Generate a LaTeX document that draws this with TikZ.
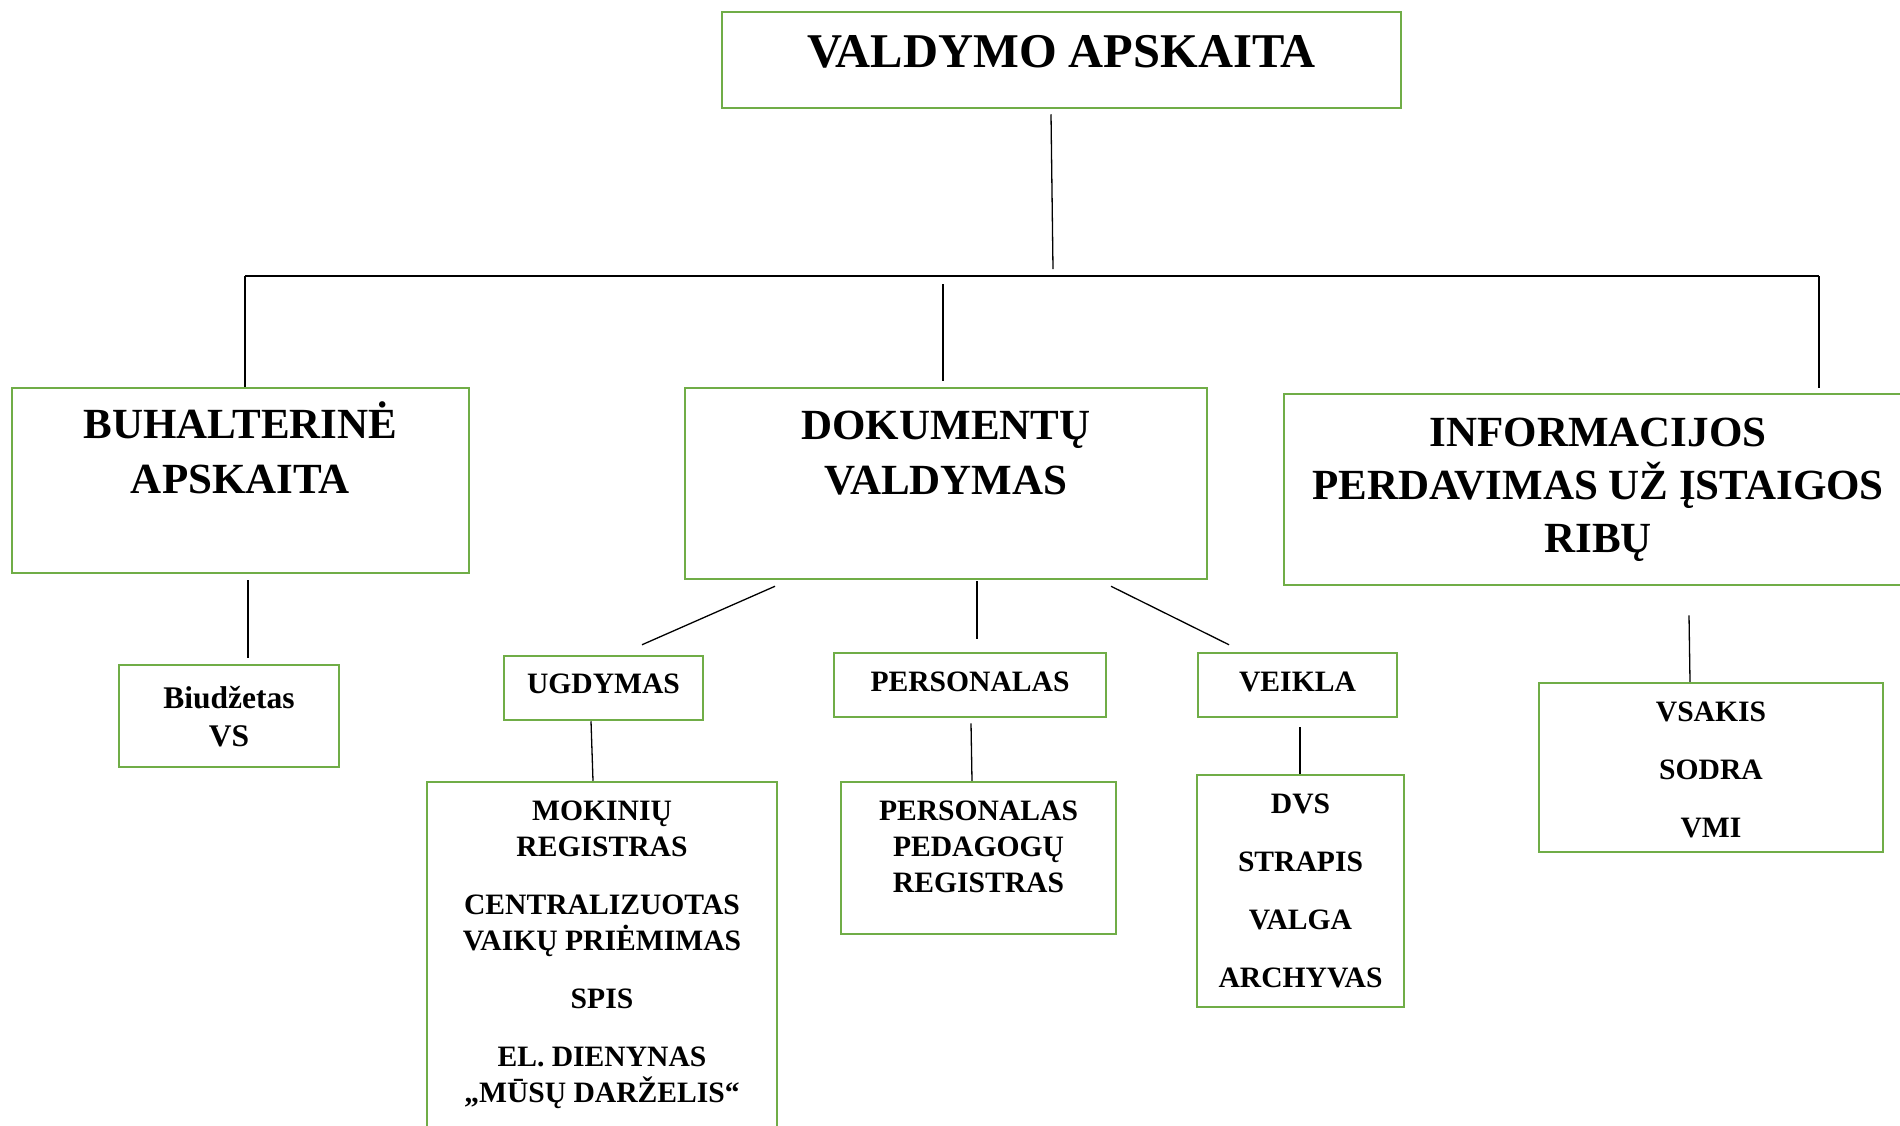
\documentclass[tikz,border=0pt]{standalone}
\usepackage{fontspec}
\setmainfont{Liberation Serif}
\usetikzlibrary{positioning}
\definecolor{boxgreen}{RGB}{112,173,71}

\begin{document}
\begin{tikzpicture}[x=1pt, y=-1pt,
  box/.style={draw=boxgreen, line width=2.5pt, inner sep=0pt},
  link/.style={line width=1.3pt},
  lbl/.style={align=center, inner sep=0pt, font=\bfseries\fontsize{29.6}{36}\selectfont, execute at begin node=\strut},
  biglbl/.style={lbl, font=\bfseries\fontsize{43}{55}\selectfont}]
  \useasboundingbox[fill=white] (0,0) rectangle (1900,1125);

  % boxes
  \node[box, minimum width=679pt, minimum height=96pt] (top) at (1061.5,60) {};
  \node[box, minimum width=457pt, minimum height=185pt] (buh) at (240.5,480.5) {};
  \node[box, minimum width=522pt, minimum height=191pt] (dok) at (946,483.5) {};
  \node[box, minimum width=628pt, minimum height=191pt] (info) at (1598,489.5) {};
  \node[box, minimum width=220pt, minimum height=102pt] (biud) at (229,716) {};
  \node[box, minimum width=199pt, minimum height=64pt] (ugd) at (603.5,688) {};
  \node[box, minimum width=272pt, minimum height=64pt] (pers) at (970,685) {};
  \node[box, minimum width=199pt, minimum height=64pt] (veik) at (1297.5,685) {};
  \node[box, minimum width=350pt, minimum height=358pt] (mok) at (602,961) {};
  \node[box, minimum width=275pt, minimum height=152pt] (ped) at (978.5,858) {};
  \node[box, minimum width=207pt, minimum height=232pt] (dvs) at (1300.5,891) {};
  \node[box, minimum width=344pt, minimum height=169pt] (vsak) at (1711,767.5) {};

  % texts
  \node[lbl, font=\bfseries\fontsize{48.5}{56}\selectfont, below=17pt of top.north] (ttop) {VALDYMO APSKAITA};
  \node[biglbl, below=15pt of buh.north] (tbuh) {BUHALTERINĖ\\APSKAITA};
  \node[biglbl, below=24.5pt of dok.north] (tdok) {DOKUMENTŲ\\VALDYMAS};
  \node[biglbl, font=\bfseries\fontsize{43}{53}\selectfont, below=25pt of info.north] (tinfo) {INFORMACIJOS\\PERDAVIMAS UŽ ĮSTAIGOS\\RIBŲ};
  \node[lbl, font=\bfseries\fontsize{31.5}{38}\selectfont, below=22pt of biud.north] (tbiud) {Biudžetas\\VS};
  \node[lbl, below=13pt of ugd.north] (tugd) {UGDYMAS};
  \node[lbl, below=14pt of pers.north] (tpers) {PERSONALAS};
  \node[lbl, below=14pt of veik.north] (tveik) {VEIKLA};
  \node[lbl, below=20pt of mok.north] (tmok) {MOKINIŲ\\REGISTRAS\\[22pt]CENTRALIZUOTAS\\VAIKŲ PRIĖMIMAS\\[22pt]SPIS\\[22pt]EL. DIENYNAS\\„MŪSŲ DARŽELIS“};
  \node[lbl, below=20pt of ped.north] (tped) {PERSONALAS\\PEDAGOGŲ\\REGISTRAS};
  \node[lbl, below=20pt of dvs.north] (tdvs) {DVS\\[22pt]STRAPIS\\[22pt]VALGA\\[22pt]ARCHYVAS};
  \node[lbl, below=20pt of vsak.north] (tvsak) {VSAKIS\\[22pt]SODRA\\[22pt]VMI};

  % bus
  \coordinate (busL) at (245,276);
  \coordinate (busM) at (943,276);
  \coordinate (busT) at (1053,276);
  \coordinate (busR) at (1819,276);
  \draw[link] (busL) -- (busR);
  \draw[link] ([xshift=-10.5pt,yshift=-5pt]top.south) -- ([yshift=7pt]busT);
  \draw[link] (busL) -- (busL |- buh.north);
  \draw[link] ([yshift=-8pt]busM) -- ([yshift=6pt]busM |- dok.north);
  \draw[link, shorten >=5pt] (busR) -- (busR |- info.north);

  % lower links
  \draw[link] ([xshift=7.5pt,yshift=-6pt]buh.south) -- ([xshift=19pt,yshift=6pt]biud.north);
  \draw[link] ([xshift=-171pt,yshift=-6pt]dok.south) -- ([xshift=38.5pt,yshift=10pt]ugd.north);
  \draw[link] ([xshift=31pt,yshift=-1pt]dok.south) -- ([xshift=7pt,yshift=13pt]pers.north);
  \draw[link] ([xshift=165pt,yshift=-6pt]dok.south) -- ([xshift=-68.5pt,yshift=7pt]veik.north);
  \draw[link] ([xshift=-12.5pt]ugd.south) -- ([xshift=-9pt]mok.north);
  \draw[link] ([xshift=1pt,yshift=-5pt]pers.south) -- ([xshift=-6.5pt]ped.north);
  \draw[link] ([xshift=2.5pt,yshift=-9pt]veik.south) -- ([xshift=-0.5pt]dvs.north);
  \draw[link] ([xshift=91pt,yshift=-29pt]info.south) -- ([xshift=-21pt]vsak.north);
\end{tikzpicture}
\end{document}
